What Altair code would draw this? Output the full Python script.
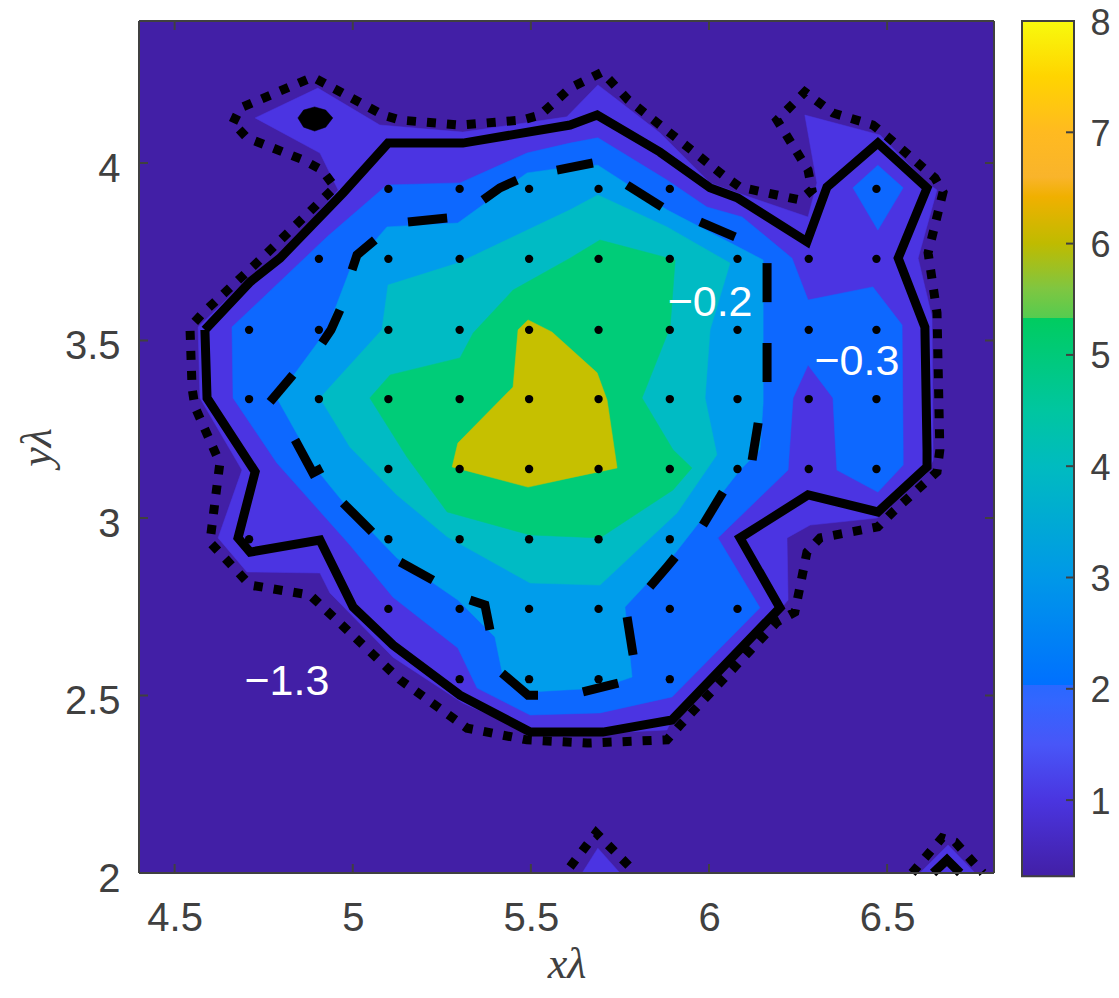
import altair as alt
import pandas as pd

BG = "#421FA6"
LEVEL_COLORS = ["#4B34E2", "#0D68FF", "#009DEB", "#00BBC4", "#00CC78", "#C6C000"]

L1_X = [4.726,4.902,5.076,5.309,5.601,5.688,5.736,5.862,6.003,6.079,6.278,6.303,6.269,6.480,6.612,6.640,6.587,6.626,6.629,6.629,6.612,6.472,6.284,6.219,6.222,6.191,5.899,5.882,5.702,5.498,5.309,5.113,4.936,4.908,4.703,4.622,4.689,4.571,4.566,4.712,4.804,4.959,4.908]
L1_Y = [4.127,4.211,4.107,4.087,4.130,4.220,4.183,4.085,3.944,3.916,3.848,3.944,4.135,4.079,3.944,3.924,3.732,3.566,3.192,3.163,3.127,3.000,2.980,2.944,2.769,2.732,2.439,2.403,2.394,2.394,2.479,2.608,2.789,2.845,2.848,2.944,3.135,3.338,3.538,3.679,3.747,3.924,4.028]
L1B_X = [5.644,5.688,5.750]
L1B_Y = [2.0,2.070,2.0]
L1C_X = [6.592,6.671,6.747]
L1C_Y = [2.0,2.079,2.0]
L2_X = [4.661,4.928,5.096,5.301,5.489,5.610,5.688,5.882,5.994,6.093,6.233,6.278,6.460,6.542,6.545,6.545,6.474,6.359,6.354,6.348,6.278,6.236,6.222,6.025,6.143,5.896,5.694,5.498,5.349,5.295,5.113,4.992,4.787,4.664]
L2_Y = [3.538,3.792,3.938,3.944,4.028,4.056,4.071,3.952,3.876,3.848,3.732,3.614,3.651,3.544,3.192,3.149,3.073,3.135,3.220,3.338,3.431,3.338,3.135,2.944,2.747,2.496,2.451,2.445,2.521,2.634,2.777,2.924,3.155,3.338]
L2B_X = [6.474,6.545,6.474,6.404]
L2B_Y = [3.994,3.930,3.811,3.930]
L3_X = [4.787,4.928,4.992,5.096,5.295,5.489,5.610,5.688,5.882,6.152,6.152,6.143,6.087,5.905,5.764,5.784,5.694,5.498,5.422,5.399,5.295,5.124,4.973,4.900]
L3_Y = [3.338,3.530,3.699,3.820,3.831,3.972,3.989,3.994,3.868,3.727,3.324,3.192,3.135,2.901,2.749,2.552,2.521,2.510,2.552,2.665,2.769,2.887,3.045,3.135]
L4_X = [4.908,5.082,5.099,5.295,5.610,5.688,5.882,6.059,6.003,5.989,6.022,5.910,5.694,5.498,5.265,5.124,4.992]
L4_Y = [3.338,3.530,3.656,3.718,3.868,3.910,3.820,3.718,3.530,3.338,3.178,3.014,2.811,2.817,2.947,3.065,3.200]
L5_X = [5.048,5.105,5.301,5.338,5.450,5.610,5.694,5.905,5.891,5.812,5.899,5.952,5.899,5.694,5.498,5.265,5.152]
L5_Y = [3.338,3.403,3.451,3.521,3.642,3.732,3.783,3.727,3.538,3.338,3.192,3.141,3.079,2.944,2.952,3.017,3.172]
L6_X = [5.492,5.464,5.450,5.295,5.279,5.492,5.610,5.742,5.714,5.686,5.559]
L6_Y = [3.558,3.530,3.369,3.211,3.144,3.087,3.113,3.141,3.332,3.409,3.524]
BLOB_X = [4.846,4.862,4.893,4.924,4.944,4.924,4.893,4.862]
BLOB_Y = [4.127,4.149,4.158,4.149,4.127,4.101,4.090,4.101]

SOLID_X = [4.585,4.712,4.796,4.973,5.099,5.309,5.610,5.686,5.862,6.003,6.081,6.275,6.331,6.474,6.612,6.531,6.606,6.612,6.612,6.474,6.278,6.087,6.199,5.896,5.702,5.498,5.301,5.113,5.001,4.908,4.712,4.678,4.726,4.591,4.585]
SOLID_Y = [3.530,3.665,3.732,3.916,4.056,4.056,4.107,4.135,4.031,3.930,3.901,3.778,3.932,4.056,3.930,3.732,3.538,3.192,3.144,3.017,3.065,2.944,2.747,2.431,2.397,2.397,2.501,2.642,2.749,2.938,2.904,2.944,3.130,3.338,3.530]
SOLID2_X = [6.629,6.668,6.705]
SOLID2_Y = [2.0,2.037,2.0]

DOT_X = [4.664,4.684,4.888,5.085,5.133,5.301,5.475,5.526,5.610,5.700,5.773,5.905,6.039,6.087,6.255,6.289,6.278,6.191,6.269,6.348,6.460,6.502,6.634,6.657,6.615,6.640,6.648,6.640,6.516,6.474,6.312,6.275,6.241,6.191,5.919,5.882,5.658,5.489,5.321,5.133,4.916,4.880,4.712,4.599,4.627,4.557,4.549,4.543,4.580,4.748,4.950,4.914,4.860,4.703,4.664]
DOT_Y = [4.113,4.155,4.242,4.135,4.121,4.107,4.121,4.135,4.211,4.256,4.178,4.073,3.966,3.932,3.896,3.924,3.980,4.121,4.200,4.141,4.107,4.073,3.958,3.918,3.747,3.578,3.192,3.130,3.017,2.975,2.944,2.904,2.735,2.707,2.417,2.375,2.366,2.375,2.408,2.544,2.749,2.783,2.811,2.932,3.155,3.313,3.366,3.538,3.578,3.735,3.932,3.980,4.009,4.071,4.113]
DOT2_X = [5.610,5.683,5.795]
DOT2_Y = [2.017,2.113,2.0]
DOT3_X = [6.570,6.654,6.691,6.769]
DOT3_Y = [2.0,2.099,2.087,2.0]

DASHES = [
    ([4.768,4.832],[3.327,3.403]),
    ([4.914,4.939,4.964],[3.493,3.530,3.586]),
    ([4.998,5.012,5.062],[3.699,3.741,3.783]),
    ([5.155,5.265],[3.834,3.845]),
    ([5.366,5.413,5.461],[3.896,3.930,3.952]),
    ([5.573,5.674],[3.980,4.000]),
    ([5.770,5.868],[3.938,3.876]),
    ([5.975,6.073],[3.834,3.792]),
    ([6.163,6.163],[3.718,3.608]),
    ([6.163,6.163],[3.493,3.383]),
    ([6.138,6.121],[3.268,3.163]),
    ([6.039,5.983],[3.073,2.980]),
    ([5.905,5.882,5.834],[2.890,2.862,2.806]),
    ([5.770,5.787],[2.721,2.614]),
    ([5.745,5.646],[2.535,2.510]),
    ([5.520,5.492,5.419],[2.501,2.501,2.563]),
    ([5.385,5.371,5.329],[2.685,2.755,2.769]),
    ([5.225,5.133],[2.825,2.876]),
    ([5.054,4.973],[2.961,3.042]),
    ([4.914,4.888,4.838],[3.141,3.127,3.220]),
]

GRID_X = [4.709,4.905,5.10,5.30,5.495,5.69,5.89,6.08,6.28,6.47]
ROWS = {
    3.927: [5.10,5.30,5.495,5.69,5.89,6.47],
    3.73: [4.905,5.10,5.30,5.495,5.69,5.89,6.08,6.28,6.47],
    3.53: GRID_X,
    3.335: GRID_X,
    3.138: [5.10,5.30,5.495,5.69,5.89,6.08,6.28,6.47],
    2.94: [4.709,5.10,5.30,5.495,5.69,5.89],
    2.744: [5.10,5.30,5.495,5.69,5.89,6.08],
    2.546: [5.30,5.495,5.69,5.89],
}

X_TICKS = [4.5,5,5.5,6,6.5]
Y_TICKS = [2,2.5,3,3.5,4]
CB_TICKS = [1,2,3,4,5,6,7,8]
LABEL_X = [6.003,6.415,4.815]
LABEL_Y = [3.606,3.439,2.538]
LABEL_T = ["\u22120.2","\u22120.3","\u22121.3"]

CB_VALUES = [0.315,1.0,1.5,1.9,2.03,2.03,3.0,4.0,4.5,5.33,5.33,5.6,5.8,6.0,6.42,6.6,7.0,7.5,8.0]
CB_COLORS = ["#421FA6","#4A35E0","#4856F8","#3266FF","#2A68FF","#0070FF","#0098E8","#00BBC0","#00C6A0","#00CC60","#55CC50","#80C640","#A0C020","#BFBB00","#F0B000","#F9B42B","#FFBA20","#FFD400","#F8FA0D"]
CB_DOMAIN = [0.345, 8]

W, H = 855, 852
TXT = "#404040"
SANS = "Liberation Sans"
XS = alt.Scale(domain=[4.4,6.8], nice=False, zero=False)
YS = alt.Scale(domain=[2,4.4], nice=False, zero=False)
X_AXIS = alt.Axis(
    values=X_TICKS, format="~g", domain=False, ticks=False, grid=False,
    labelFont=SANS, labelFontSize=40, labelColor=TXT, labelPadding=25,
    titleFont="Liberation Serif", titleFontStyle="italic", titleFontWeight="normal",
    titleFontSize=44, titleColor=TXT, titlePadding=4)
Y_AXIS = alt.Axis(
    values=Y_TICKS, format="~g", domain=False, ticks=False, grid=False,
    labelFont=SANS, labelFontSize=40, labelColor=TXT, labelPadding=19, labelOffset=6,
    titleFont="Liberation Serif", titleFontStyle="italic", titleFontWeight="normal",
    titleFontSize=44, titleColor=TXT, titlePadding=5)
GX = alt.X("x:Q", scale=XS, axis=X_AXIS, title="x\u03bb")
GY = alt.Y("y:Q", scale=YS, axis=Y_AXIS, title="y\u03bb")


def frame(xs, ys, pid=0):
    return pd.DataFrame({"x": xs, "y": ys, "i": range(len(xs)), "p": pid})


def fill_layer(xs, ys, color):
    return alt.Chart(frame(xs, ys)).mark_line(
        interpolate="linear-closed", fill=color, stroke=color, strokeWidth=0.5
    ).encode(x=GX, y=GY, order="i:Q")


def line_layer(xs, ys, **kw):
    return alt.Chart(frame(xs, ys)).mark_line(color="black", strokeWidth=9, strokeCap="butt", **kw).encode(x=GX, y=GY, order="i:Q")


bg = alt.Chart(pd.DataFrame({"x": [4.4], "x2": [6.8], "y": [2], "y2": [4.4]})).mark_rect(color=BG).encode(
    x=GX, x2="x2:Q", y=GY, y2="y2:Q",
)

layers = [bg]
for xs, ys, c in [
    (L1_X, L1_Y, LEVEL_COLORS[0]), (L1B_X, L1B_Y, LEVEL_COLORS[0]), (L1C_X, L1C_Y, LEVEL_COLORS[0]),
    (L2_X, L2_Y, LEVEL_COLORS[1]), (L2B_X, L2B_Y, LEVEL_COLORS[1]),
    (L3_X, L3_Y, LEVEL_COLORS[2]), (L4_X, L4_Y, LEVEL_COLORS[3]),
    (L5_X, L5_Y, LEVEL_COLORS[4]), (L6_X, L6_Y, LEVEL_COLORS[5]),
    (BLOB_X, BLOB_Y, "#000000"),
]:
    layers.append(fill_layer(xs, ys, c))

dots = pd.DataFrame([{"x": x, "y": y} for y, row in ROWS.items() for x in row])
layers.append(alt.Chart(dots).mark_circle(color="black", size=70, opacity=1).encode(x=GX, y=GY))

layers.append(line_layer(SOLID_X, SOLID_Y, strokeJoin="miter"))
layers.append(line_layer(SOLID2_X, SOLID2_Y))
for xs, ys in [(DOT_X, DOT_Y), (DOT2_X, DOT2_Y), (DOT3_X, DOT3_Y)]:
    layers.append(line_layer(xs, ys, strokeDash=[9, 11]))

dash_df = pd.concat([frame(xs, ys, n) for n, (xs, ys) in enumerate(DASHES)])
layers.append(alt.Chart(dash_df).mark_line(color="black", strokeWidth=9, strokeCap="butt").encode(
    x=GX, y=GY, order="i:Q", detail="p:N"))

layers.append(alt.Chart(pd.DataFrame({"x": LABEL_X, "y": LABEL_Y, "t": LABEL_T})).mark_text(
    color="white", font=SANS, fontSize=43).encode(x=GX, y=GY, text="t:N"))

xt = pd.DataFrame({"x": X_TICKS})
yt = pd.DataFrame({"y": Y_TICKS})
tick = dict(color=TXT, strokeWidth=2)
layers += [
    alt.Chart(xt).mark_rule(**tick).encode(x=GX, y=alt.value(H), y2=alt.value(H - 9)),
    alt.Chart(xt).mark_rule(**tick).encode(x=GX, y=alt.value(0), y2=alt.value(9)),
    alt.Chart(yt).mark_rule(**tick).encode(y=GY, x=alt.value(0), x2=alt.value(9)),
    alt.Chart(yt).mark_rule(**tick).encode(y=GY, x=alt.value(W), x2=alt.value(W - 9)),
]
edge = alt.Chart(pd.DataFrame({"a": [0]}))
layers += [
    edge.mark_rule(**tick).encode(x=alt.value(0), x2=alt.value(W), y=alt.value(0)),
    edge.mark_rule(**tick).encode(x=alt.value(0), x2=alt.value(W), y=alt.value(H)),
    edge.mark_rule(**tick).encode(y=alt.value(0), y2=alt.value(H), x=alt.value(0)),
    edge.mark_rule(**tick).encode(y=alt.value(0), y2=alt.value(H), x=alt.value(W)),
]
main = alt.layer(*layers)

CB_LEFT, CB_RIGHT = W + 28, W + 80
CS = alt.Scale(domain=CB_DOMAIN, nice=False, zero=False)
CB_AXIS = alt.Axis(
    orient="right", values=CB_TICKS, domain=False, ticks=False, grid=False,
    labelFont=SANS, labelFontSize=36, labelColor=TXT, labelPadding=96, labelOffset=2)
span = CB_VALUES[-1] - CB_VALUES[0]
stops = [alt.GradientStop(offset=(v - CB_VALUES[0]) / span, color=c) for v, c in zip(CB_VALUES, CB_COLORS)]
cb_rect = alt.Chart(pd.DataFrame({"v": [CB_VALUES[0]], "hi": [CB_VALUES[-1]]})).mark_rect(
    color=alt.Gradient(gradient="linear", x1=0, x2=0, y1=1, y2=0, stops=stops),
    stroke=TXT, strokeWidth=2,
).encode(
    y=alt.Y("v:Q", scale=CS, title=None, axis=CB_AXIS),
    y2="hi:Q",
    x=alt.value(CB_LEFT), x2=alt.value(CB_RIGHT),
)
cb_ticks = alt.Chart(pd.DataFrame({"v": CB_TICKS[:-1]})).mark_rule(**tick).encode(
    y=alt.Y("v:Q", scale=CS, title=None, axis=CB_AXIS), x=alt.value(CB_RIGHT - 8), x2=alt.value(CB_RIGHT))
colorbar = alt.layer(cb_rect, cb_ticks)

chart = alt.layer(main, colorbar).resolve_scale(y="independent").properties(
    width=W, height=H,
    autosize=alt.AutoSizeParams(type="none"),
    padding={"left": 131, "top": 13, "right": 117, "bottom": 117},
    background="white",
).configure_view(stroke=None)

chart.save("out.html", embed_options={"renderer": "svg", "actions": False})
